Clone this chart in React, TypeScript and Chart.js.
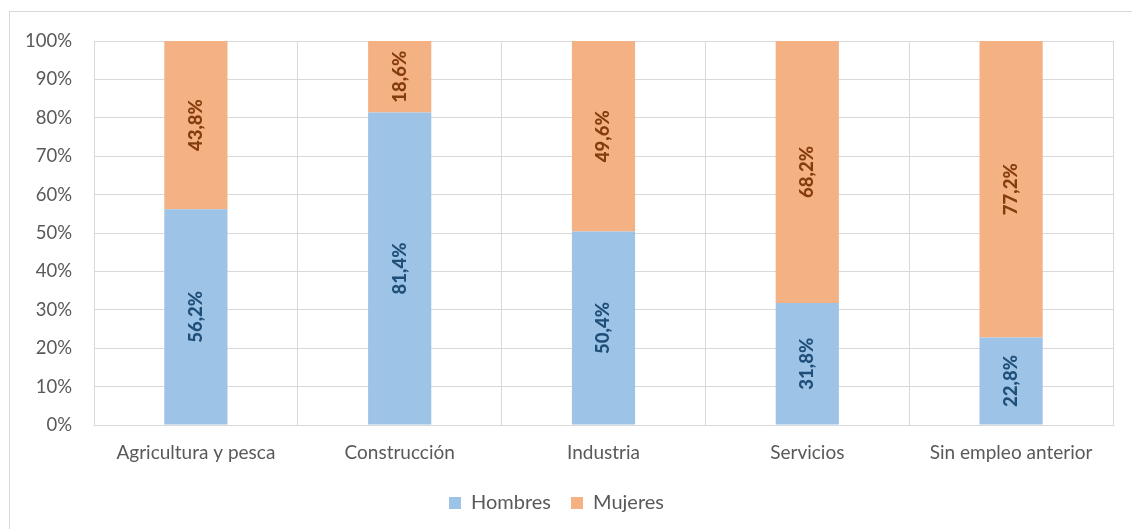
import React, { useEffect, useRef } from "react";
import { Chart, registerables } from "chart.js";

Chart.register(...registerables);

const categories = ["Agricultura y pesca", "Construcción", "Industria", "Servicios", "Sin empleo anterior"];
const hombres = [56.2, 81.4, 50.4, 31.8, 22.8];
const mujeres = [43.8, 18.6, 49.6, 68.2, 77.2];
const yTicks = [0, 10, 20, 30, 40, 50, 60, 70, 80, 90, 100];

const FONT = "Lato, 'Open Sans', sans-serif";
const labelColors = ["#1F4E79", "#843C0C"];

const valueLabels = {
  id: "valueLabels",
  afterDatasetsDraw(chart: any) {
    const ctx = chart.ctx;
    chart.data.datasets.forEach((ds: any, di: number) => {
      const meta = chart.getDatasetMeta(di);
      meta.data.forEach((el: any, i: number) => {
        const v = ds.data[i];
        const cy = (el.y + el.base) / 2;
        ctx.save();
        ctx.translate(el.x, cy);
        ctx.rotate(-Math.PI / 2);
        ctx.font = `900 18.5px ${FONT}`;
        ctx.fillStyle = labelColors[di];
        ctx.textAlign = "center";
        ctx.textBaseline = "middle";
        ctx.fillText(v.toFixed(1).replace(".", ",") + "%", 0, 0);
        ctx.restore();
      });
    });
  },
};

export default function App() {
  const ref = useRef<HTMLCanvasElement>(null);
  useEffect(() => {
    const chart = new Chart(ref.current as HTMLCanvasElement, {
      type: "bar",
      data: {
        labels: categories,
        datasets: [
          { label: "Hombres", data: hombres, backgroundColor: "#9DC3E6", barPercentage: 0.31, categoryPercentage: 1 },
          { label: "Mujeres", data: mujeres, backgroundColor: "#F4B183", barPercentage: 0.31, categoryPercentage: 1 },
        ],
      },
      options: {
        animation: false,
        responsive: false,
        maintainAspectRatio: false,
        layout: { padding: { left: 0, top: 41, right: 19, bottom: 6 } },
        plugins: {
          tooltip: { enabled: false },
          legend: {
            position: "bottom",
            labels: {
              font: { family: FONT, size: 20 },
              color: "#595959",
              boxWidth: 12,
              boxHeight: 12,
              padding: 20,
            },
          },
        },
        scales: {
          x: {
            stacked: true,
            grid: { color: "#d9d9d9", offset: true, drawTicks: false, lineWidth: 1 },
            border: { color: "#d9d9d9" },
            ticks: { font: { family: FONT, size: 19 }, color: "#595959", padding: 16 },
            afterFit(scale: any) {
              scale.height = 48;
            },
          },
          y: {
            stacked: true,
            min: 0,
            max: 100,
            afterBuildTicks(scale: any) {
              scale.ticks = yTicks.map((v) => ({ value: v }));
            },
            grid: { color: "#d9d9d9", drawTicks: false },
            border: { color: "#d9d9d9" },
            ticks: {
              font: { family: FONT, size: 18.5 },
              color: "#595959",
              padding: 22,
              callback: (v: any) => v + "%",
            },
            afterFit(scale: any) {
              scale.width = 94;
            },
          },
        },
      },
      plugins: [valueLabels],
    });
    return () => chart.destroy();
  }, []);
  return (
    <div style={{ position: "fixed", left: 0, top: 0, width: 1132, height: 529, background: "#fff", overflow: "hidden" }}>
      <div style={{ position: "absolute", left: 9, top: 11, width: 1140, height: 540, border: "1px solid #d9d9d9" }} />
      <canvas ref={ref} width={1132} height={529} style={{ position: "absolute", left: 0, top: 0 }} />
    </div>
  );
}
